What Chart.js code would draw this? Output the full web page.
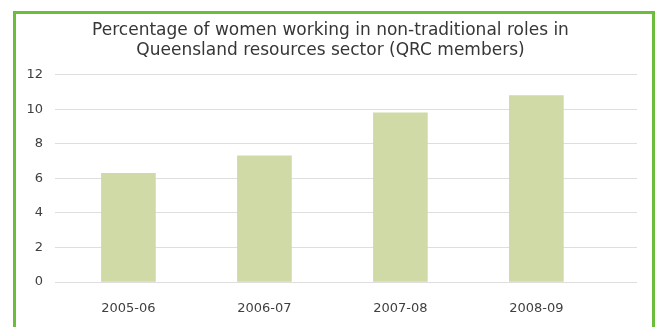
<!DOCTYPE html>
<html>
<head>
<meta charset="utf-8">
<script src="https://cdn.jsdelivr.net/npm/chart.js@4"></script>
<style>
  html, body { margin: 0; padding: 0; background: #fff; }
  .wrap { position: relative; width: 657px; height: 327px; overflow: hidden; }
  .frame { position: absolute; left: 13px; top: 11px; width: 636px; height: 340px; border: 3px solid #6dbd3d; }
  canvas { position: absolute; left: 0; top: 0; }
</style>
</head>
<body>
<div class="wrap">
  <canvas id="myBarChart" width="657" height="327"></canvas>
  <div class="frame"></div>
</div>
<script>
//declarations

const titleLines = ['Percentage of women working in non-traditional roles in', 'Queensland resources sector (QRC members)'];
const years = ['2005-06', '2006-07', '2007-08', '2008-09'];
const womenPercent = [6.3, 7.3, 9.8, 10.8];
const yTicks = [0, 2, 4, 6, 8, 10, 12];

const ctx = document.getElementById('myBarChart').getContext('2d');
const textColor = '#363636';

// x is a linear scale so the bars can sit where they do in the picture
let points = [];
for (let i = 0; i < years.length; i++) {
  points.push({ x: i, y: womenPercent[i] });
}

let myBarChart = new Chart(ctx, {
  type: 'bar',
  data: {
    datasets: [{
      data: points,
      backgroundColor: '#cfdaa7',
      borderWidth: 0,
      barThickness: 54
    }]
  },
  options: {
    responsive: false,
    animation: false,
    // some left padding pushes the title centre right, y axis narrower to compensate
    layout: { padding: { top: 12, right: 20, left: 24, bottom: 0 } },
    plugins: {
      legend: { display: false },
      tooltip: { enabled: false },
      title: {
        display: true,
        text: titleLines,
        color: textColor,
        font: { family: 'DejaVu Sans', size: 17, weight: 'normal', lineHeight: 1.2 },
        padding: { top: 8, bottom: 14 }
      }
    },
    scales: {
      x: {
        type: 'linear',
        offset: false,
        min: -0.54,
        max: 3.74,
        afterBuildTicks: function (scale) {
          scale.ticks = years.map((y, i) => ({ value: i }));
        },
        afterFit: function (scale) { scale.height = 45; },
        grid: { display: false, drawTicks: false },
        border: { display: false },
        ticks: {
          color: '#404040',
          font: { family: 'DejaVu Sans', size: 13 },
          padding: 19,
          maxRotation: 0,
          callback: function (value) { return years[value]; }
        }
      },
      y: {
        min: 0,
        max: 12,
        afterBuildTicks: function (scale) {
          scale.ticks = yTicks.map(v => ({ value: v }));
        },
        afterFit: function (scale) { scale.width = 31; },
        grid: { color: '#dedede', lineWidth: 1, drawTicks: false },
        border: { display: false },
        ticks: {
          color: '#404040',
          font: { family: 'DejaVu Sans', size: 13 },
          padding: 12
        }
      }
    }
  }
});
</script>
</body>
</html>
